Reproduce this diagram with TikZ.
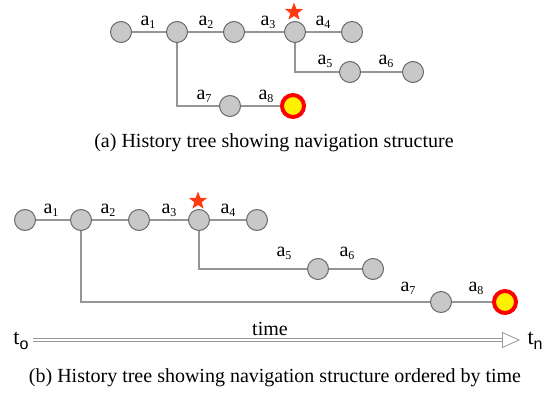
\documentclass[tikz,border=0pt]{standalone}
\usepackage{fontspec}
\setmainfont{Liberation Serif}
\newfontfamily\subsans{Liberation Sans}
\usetikzlibrary{shapes.geometric,arrows.meta}
\definecolor{nodefill}{HTML}{C8C8C8}
\definecolor{nodeline}{HTML}{6A6A6A}
\definecolor{edgecol}{HTML}{959595}
\definecolor{starcol}{HTML}{FF3A10}
\newcommand{\act}[1]{a\raisebox{-0.3ex}{\fontsize{12}{12}\selectfont #1}}
\tikzset{
  page/.style={x=1pt,y=-1pt},
  state/.style={circle,draw=nodeline,fill=nodefill,line width=1pt,minimum size=21pt,inner sep=0pt},
  current/.style={circle,draw=red,fill=yellow,line width=4pt,minimum size=22pt,inner sep=0pt},
  edge/.style={draw=edgecol,line width=1.2pt},
  lbl/.style={font=\fontsize{20}{20}\selectfont,inner sep=0pt},
  marker/.style={star,star points=5,star point ratio=2.4,fill=starcol,minimum size=19pt,inner sep=0pt},
  caption/.style={font=\fontsize{20}{24}\selectfont,inner sep=0pt}
}
\begin{document}
\begin{tikzpicture}[page]
\useasboundingbox (0,0) rectangle (549,393);
% ---- (a) navigation tree ----
\node[state] (p1) at (121,32) {};
\node[state] (p2) at (177,32) {};
\node[state] (p3) at (234,32) {};
\node[state] (p4) at (295,32) {};
\node[state] (p5) at (352,32) {};
\node[state] (p6) at (350,72) {};
\node[state] (p7) at (413,72) {};
\node[state] (p8) at (230,106) {};
\node[current] (p9) at (293,106) {};
\node[marker] (ps) at (294,12) {};
\coordinate (pc1) at (295,72);
\coordinate (pc2) at (177,106);
\draw[edge] (p1) -- (p2);
\draw[edge] (p2) -- (p3);
\draw[edge] (p3) -- (p4);
\draw[edge] (p4) -- (p5);
\draw[edge] (p4) -- (pc1) -- (p6);
\draw[edge] (p6) -- (p7);
\draw[edge] (p2) -- (pc2) -- (p8);
\draw[edge] (p8) -- (p9);
\node[lbl] (pl1) at (148,22) {\act{1}};
\node[lbl] (pl2) at (206,22) {\act{2}};
\node[lbl] (pl3) at (268,22) {\act{3}};
\node[lbl] (pl4) at (323,22) {\act{4}};
\node[lbl] (pl5) at (325,61) {\act{5}};
\node[lbl] (pl6) at (386,61) {\act{6}};
\node[lbl] (pl7) at (204,96) {\act{7}};
\node[lbl] (pl8) at (266,96) {\act{8}};
\node[caption] (capa) at (274,143) {(a) History tree showing navigation structure};
% ---- (b) tree laid out along time ----
\node[state] (q1) at (25,220) {};
\node[state] (q2) at (81,220) {};
\node[state] (q3) at (139,220) {};
\node[state] (q4) at (199,220) {};
\node[state] (q5) at (257,220) {};
\node[state] (q6) at (318,269) {};
\node[state] (q7) at (373,269) {};
\node[state] (q8) at (441,302) {};
\node[current] (q9) at (505,302) {};
\node[marker] (qs) at (198,201) {};
\coordinate (qc1) at (199,269);
\coordinate (qc2) at (81,302);
\draw[edge] (q1) -- (q2);
\draw[edge] (q2) -- (q3);
\draw[edge] (q3) -- (q4);
\draw[edge] (q4) -- (q5);
\draw[edge] (q4) -- (qc1) -- (q6);
\draw[edge] (q6) -- (q7);
\draw[edge] (q2) -- (qc2) -- (q8);
\draw[edge] (q8) -- (q9);
\node[lbl] (ql1) at (51,210) {\act{1}};
\node[lbl] (ql2) at (108,210) {\act{2}};
\node[lbl] (ql3) at (169,210) {\act{3}};
\node[lbl] (ql4) at (228,210) {\act{4}};
\node[lbl] (ql5) at (284,253) {\act{5}};
\node[lbl] (ql6) at (347,253) {\act{6}};
\node[lbl] (ql7) at (408,288) {\act{7}};
\node[lbl] (ql8) at (476,288) {\act{8}};
% time axis
\node[lbl,font=\fontsize{22}{22}\selectfont] (t0) at (21,341) {t\raisebox{-0.5ex}{\subsans\fontsize{16}{16}\selectfont o}};
\node[lbl,font=\fontsize{22}{22}\selectfont] (tn) at (535,341) {t\raisebox{-0.5ex}{\subsans\fontsize{16}{16}\selectfont n}};
\coordinate (ta) at (33,340);
\coordinate (tb) at (520,340);
\draw[double=white,draw=gray!80,double distance=2.5pt,line width=0.8pt,
      -{Triangle[open,length=18pt,width=16pt,fill=white,line width=0.8pt]}] (ta) -- (tb);
\node[lbl] (tl) at (270,329) {time};
\node[caption] (capb) at (275,378) {(b) History tree showing navigation structure ordered by time};
\end{tikzpicture}
\end{document}
